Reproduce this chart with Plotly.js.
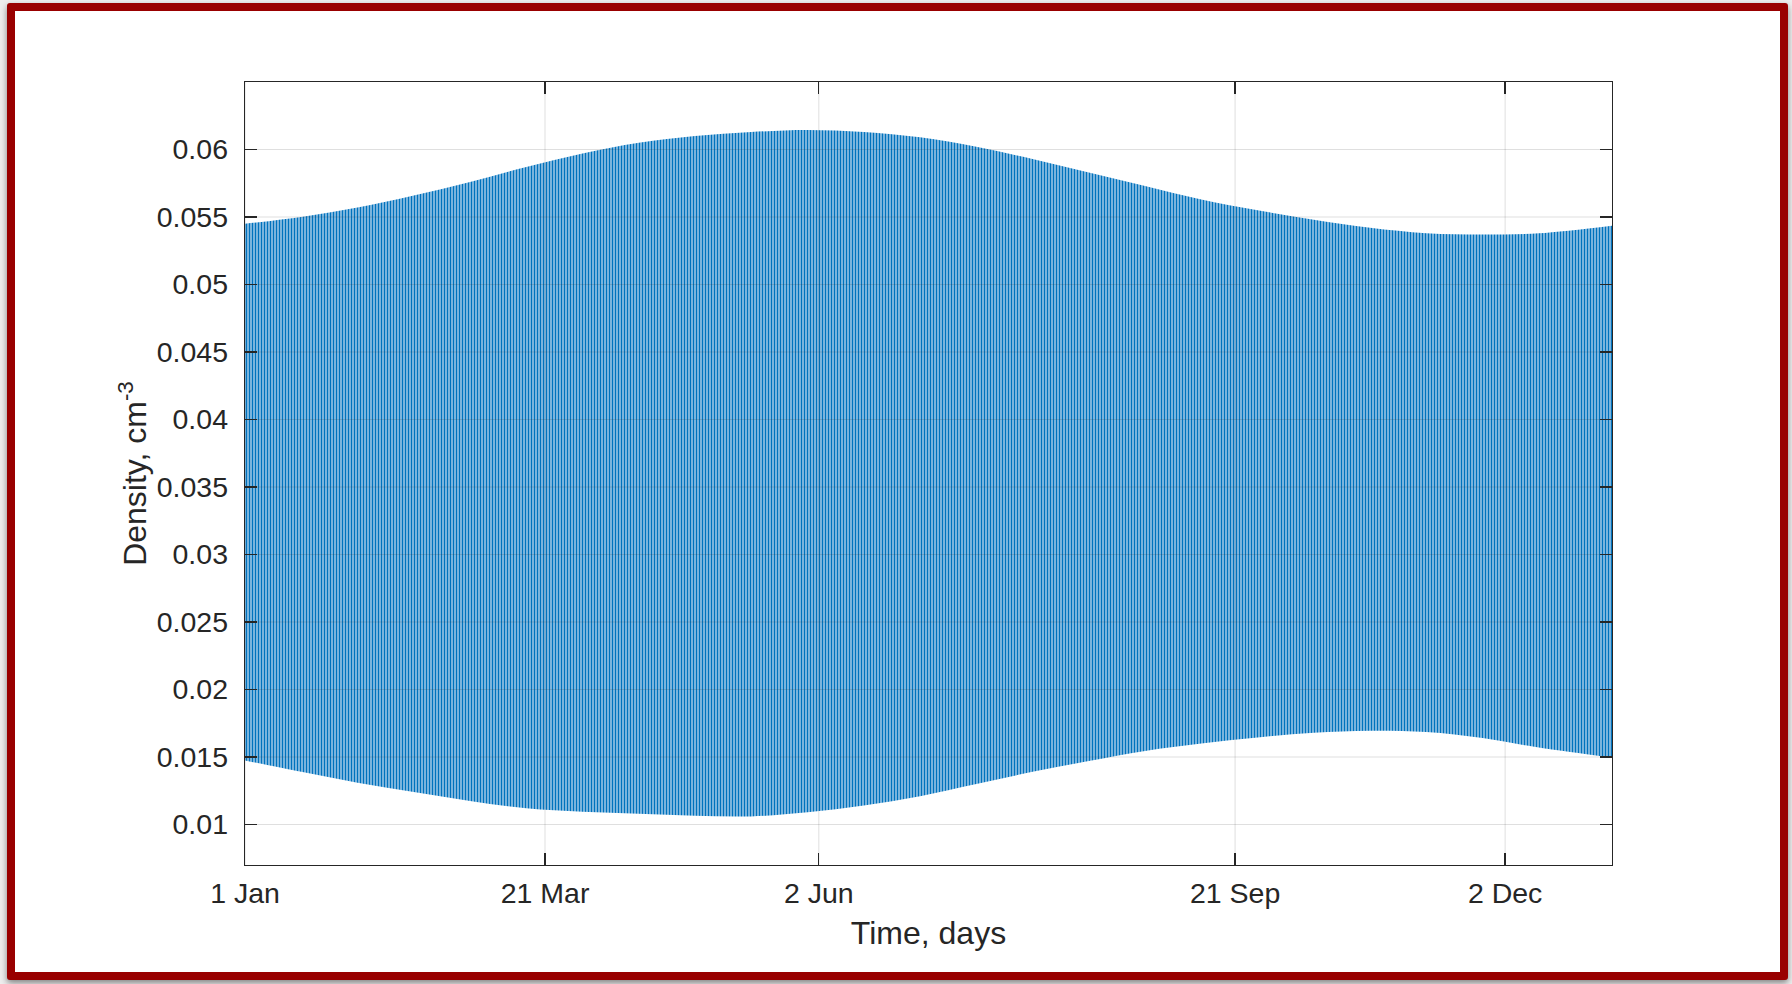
<!DOCTYPE html>
<html>
<head>
<meta charset="utf-8">
<script src="https://cdn.plot.ly/plotly-3.0.1.min.js"></script>
<style>
  html, body { margin: 0; padding: 0; width: 1792px; height: 984px; overflow: hidden; background: #eeeeee; }
  #frame {
    position: absolute; left: 7px; top: 3px; width: 1781px; height: 977px;
    box-sizing: border-box; border: 8px solid #990000; border-radius: 3px;
    background: #ffffff; box-shadow: 0 3px 6px rgba(0, 0, 0, 0.45);
  }
  #chart { position: absolute; left: 0; top: 0; width: 1792px; height: 984px; }
</style>
</head>
<body>
<div id="frame"></div>
<div id="chart"></div>
<script>
// Daily density oscillation over one year: envelope of the daily maxima and minima (cm^-3)
const maxDay = [1, 16, 31, 46, 61, 76, 91, 106, 121, 136, 151, 166, 181, 196, 211, 226, 241, 256, 271, 286, 301, 316, 331, 346, 365.5];
const densityMax = [0.0545, 0.0550, 0.0557, 0.0566, 0.0576, 0.0587, 0.0597, 0.0605, 0.0610, 0.0613, 0.06145, 0.0613, 0.0609, 0.0602, 0.0593, 0.0583, 0.0573, 0.0563, 0.0555, 0.0548, 0.0542, 0.0538, 0.0537, 0.0538, 0.05436];

const minDay = [1, 16, 31, 46, 61, 76, 91, 106, 121, 136, 151, 166, 181, 196, 211, 226, 241, 256, 271, 286, 301, 316, 331, 346, 365.5];
const densityMin = [0.01475, 0.0139, 0.0131, 0.0124, 0.01175, 0.0112, 0.01095, 0.0108, 0.01065, 0.0106, 0.0109, 0.0114, 0.0121, 0.0130, 0.0139, 0.0147, 0.01545, 0.0160, 0.01645, 0.0168, 0.01695, 0.01685, 0.0164, 0.0157, 0.01495];

// Axis ticks
const dayTicks = [1, 81, 154, 265, 337];
const dayTickText = ['1 Jan', '21 Mar', '2 Jun', '21 Sep', '2 Dec'];
const densityTicks = [0.01, 0.015, 0.02, 0.025, 0.03, 0.035, 0.04, 0.045, 0.05, 0.055, 0.06];
const densityTickText = ['0.01', '0.015', '0.02', '0.025', '0.03', '0.035', '0.04', '0.045', '0.05', '0.055', '0.06'];
const densityRange = [0.0070, 0.0650];

const FONT = 'Liberation Sans, Arial, Helvetica, sans-serif';
const INK = '#262626';
const LINE_BLUE = '#0072BD';

const traces = [
  {
    x: minDay, y: densityMin, type: 'scatter', mode: 'lines',
    line: { width: 0, shape: 'spline', smoothing: 1, color: LINE_BLUE },
    hoverinfo: 'skip', showlegend: false
  },
  {
    x: maxDay, y: densityMax, type: 'scatter', mode: 'lines',
    line: { width: 0, shape: 'spline', smoothing: 1, color: LINE_BLUE },
    fill: 'tonexty',
    fillcolor: LINE_BLUE,
    fillpattern: { shape: '|', size: 3, solidity: 0.55, fgcolor: LINE_BLUE, bgcolor: '#b4d3ec', fgopacity: 1 },
    hoverinfo: 'skip', showlegend: false
  }
];

const xRange = [Math.min(...maxDay, ...minDay), Math.max(...maxDay, ...minDay)];

// Grid drawn on top of the data, as a translucent dark line
const gridColor = 'rgba(38,38,38,0.15)';
const shapes = [];
densityTicks.forEach(v => shapes.push({
  type: 'line', xref: 'paper', x0: 0, x1: 1, yref: 'y', y0: v, y1: v,
  line: { color: gridColor, width: 1 }, layer: 'above'
}));
dayTicks.forEach(v => shapes.push({
  type: 'line', xref: 'x', x0: v, x1: v, yref: 'paper', y0: 0, y1: 1,
  line: { color: gridColor, width: 1 }, layer: 'above'
}));

const layout = {
  width: 1792, height: 984,
  margin: { l: 245, r: 180, t: 82, b: 119 },
  paper_bgcolor: 'rgba(0,0,0,0)',
  plot_bgcolor: '#ffffff',
  showlegend: false,
  font: { family: FONT, color: INK },
  xaxis: {
    range: xRange,
    tickvals: dayTicks, ticktext: dayTickText,
    ticks: 'inside', ticklen: 12, tickwidth: 1.3, tickcolor: INK,
    showline: true, linecolor: INK, linewidth: 1.3, mirror: 'allticks',
    showgrid: false, zeroline: false,
    tickfont: { family: FONT, size: 28.5, color: INK },
    ticklabelstandoff: 2,
    title: { text: 'Time, days', font: { family: FONT, size: 32, color: INK }, standoff: 14 }
  },
  yaxis: {
    range: densityRange,
    tickvals: densityTicks, ticktext: densityTickText,
    ticks: 'inside', ticklen: 12, tickwidth: 1.3, tickcolor: INK,
    showline: true, linecolor: INK, linewidth: 1.3, mirror: 'allticks',
    showgrid: false, zeroline: false,
    tickfont: { family: FONT, size: 28.5, color: INK },
    ticklabelstandoff: 10,
    title: { text: 'Density, cm<sup>-3</sup>', font: { family: FONT, size: 32, color: INK }, standoff: 0 }
  },
  shapes: shapes
};

Plotly.newPlot('chart', traces, layout, { staticPlot: true, displayModeBar: false });
</script>
</body>
</html>
